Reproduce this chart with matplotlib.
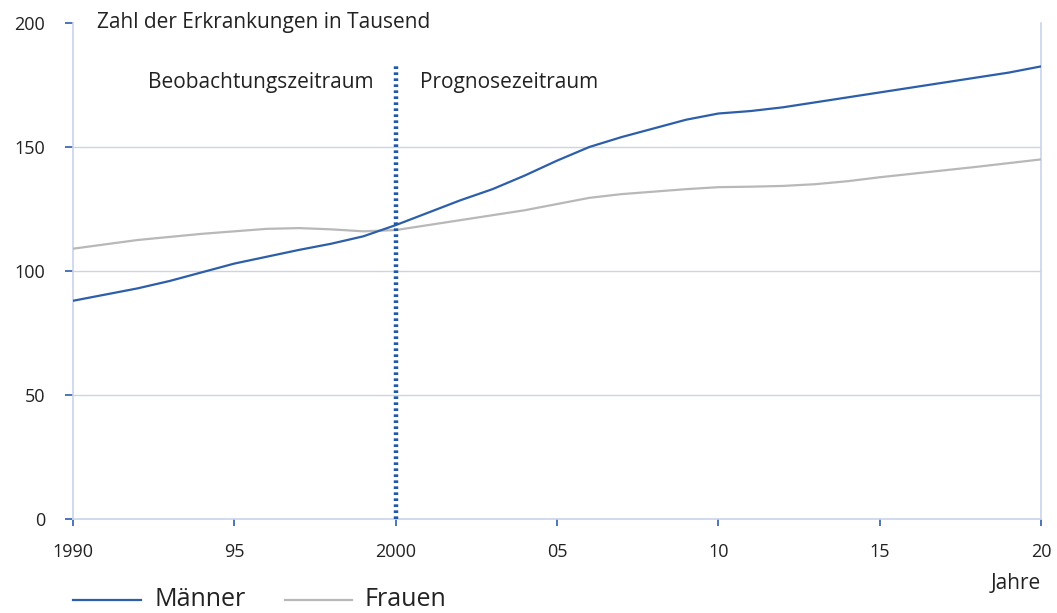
import matplotlib.pyplot as plt

# data
jahre_m = [1990, 1992, 1993, 1995, 1997, 1998, 1999, 2000, 2001, 2002, 2003, 2004, 2005,
           2006, 2007, 2008, 2009, 2010, 2011, 2012, 2013, 2014, 2015, 2016, 2017, 2018, 2019, 2020]
maenner = [88, 93, 96, 103, 108.5, 111, 114, 118.5, 123.5, 128.5, 133, 138.5, 144.5,
           150, 154, 157.5, 161, 163.5, 164.5, 166, 168, 170, 172, 174, 176, 178, 180, 182.5]

jahre_f = [1990, 1992, 1994, 1996, 1997, 1998, 1999, 2000, 2001, 2002, 2003, 2004, 2005,
           2006, 2007, 2008, 2009, 2010, 2011, 2012, 2013, 2014, 2015, 2016, 2017, 2018, 2019, 2020]
frauen = [109, 112.5, 115, 117, 117.3, 116.8, 116, 116.5, 118.5, 120.5, 122.5, 124.5, 127,
          129.5, 131, 132, 133, 133.8, 134, 134.3, 135, 136.2, 137.8, 139.2, 140.6, 142, 143.5, 145]

xticks = [1990, 1995, 2000, 2005, 2010, 2015, 2020]
xlabels = ['1990', '95', '2000', '05', '10', '15', '20']
yticks = [0, 50, 100, 150, 200]

blau = '#2d5ea8'
grau = '#b8b8b8'
hell = '#c9d3ea'

plt.rcParams['font.family'] = ['Open Sans', 'DejaVu Sans']

fig = plt.figure(figsize=(10.57, 6.13), dpi=100)
ax = fig.add_axes([0.0691, 0.1533, 0.9158, 0.8092])

ax.set_xlim(1990, 2020)
ax.set_ylim(0, 200)

for y in [50, 100, 150]:
    ax.axhline(y, color=hell, lw=1, zorder=1)

ax.plot(jahre_f, frauen, color=grau, lw=1.6, zorder=3)
ax.plot(jahre_m, maenner, color=blau, lw=1.6, zorder=4)
ax.plot([2000, 2000], [0, 183], color='#1f59a8', lw=3.2, ls=(0, (0.6, 0.75)), zorder=5)

ax.spines['top'].set_visible(False)
for s in ['left', 'right', 'bottom']:
    ax.spines[s].set_color(hell)
    ax.spines[s].set_linewidth(1.2)

ax.set_xticks(xticks)
ax.set_xticklabels(xlabels)
ax.set_yticks(yticks)
ax.tick_params(axis='both', colors=blau, labelcolor='#222222', labelsize=13, width=1.2)
ax.tick_params(axis='y', length=6, pad=14)
ax.tick_params(axis='x', length=5, pad=12)

ax.text(0.025, 1.0, 'Zahl der Erkrankungen in Tausend', transform=ax.transAxes,
        fontsize=15, color='#222222', va='center', ha='left')
ax.text(1999.3, 176, 'Beobachtungszeitraum', fontsize=15, color='#222222', ha='right', va='center')
ax.text(2000.75, 176, 'Prognosezeitraum', fontsize=15, color='#222222', ha='left', va='center')
fig.text(0.985, 0.048, 'Jahre', fontsize=15, color='#222222', ha='right', va='center')

# legend drawn by hand below the axes
fig.add_artist(plt.Line2D([0.069, 0.133], [0.022, 0.022], color=blau, lw=1.6))
fig.text(0.146, 0.022, 'Männer', fontsize=18, color='#222222', va='center')
fig.add_artist(plt.Line2D([0.27, 0.333], [0.022, 0.022], color=grau, lw=1.6))
fig.text(0.345, 0.022, 'Frauen', fontsize=18, color='#222222', va='center')

fig.savefig('out.png', dpi=100)
